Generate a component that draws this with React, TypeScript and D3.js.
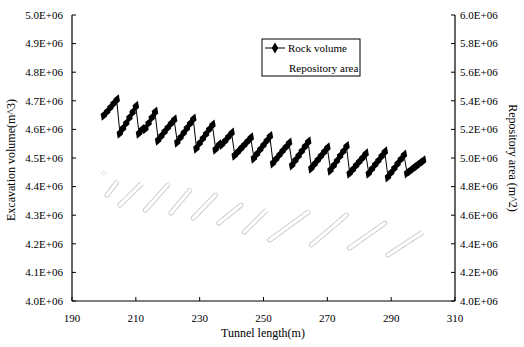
import React from 'react';
import * as d3 from 'd3';

// tunnel length (m), one point per metre
const tunnelLength: number[] = d3.range(200, 301);

// excavation volume, in 10^6 m^3
const rockVolume: number[] = [
  4.650, 4.662, 4.676, 4.690, 4.703,
  4.587, 4.604, 4.622, 4.641, 4.660, 4.680,
  4.587, 4.600, 4.603, 4.622, 4.641, 4.660,
  4.563, 4.577, 4.592, 4.606, 4.620, 4.633,
  4.556, 4.572, 4.588, 4.604, 4.620, 4.636,
  4.535, 4.552, 4.568, 4.584, 4.600, 4.615,
  4.531, 4.546, 4.548, 4.560, 4.574, 4.587,
  4.510, 4.522, 4.534, 4.546, 4.558, 4.570,
  4.500, 4.515, 4.530, 4.545, 4.560, 4.575,
  4.483, 4.497, 4.511, 4.525, 4.538, 4.552,
  4.476, 4.492, 4.508, 4.524, 4.540, 4.556,
  4.465, 4.479, 4.493, 4.507, 4.521, 4.535,
  4.458, 4.474, 4.490, 4.507, 4.523, 4.540,
  4.447, 4.460, 4.474, 4.487, 4.500, 4.514,
  4.447, 4.462, 4.477, 4.491, 4.506, 4.521,
  4.434, 4.449, 4.464, 4.480, 4.495, 4.510,
  4.448, 4.456, 4.465, 4.473, 4.482, 4.490,
];

// repository area, in 10^6 m^2
const repositoryArea: number[] = [
  4.895,
  4.740, 4.770, 4.800, 4.830,
  4.671, 4.693, 4.715, 4.737, 4.759, 4.781, 4.803, 4.825,
  4.636, 4.661, 4.686, 4.711, 4.736, 4.761, 4.786, 4.811,
  4.615, 4.642, 4.669, 4.696, 4.722, 4.749, 4.776,
  4.580, 4.603, 4.626, 4.649, 4.672, 4.695, 4.718, 4.741,
  4.545, 4.563, 4.581, 4.599, 4.617, 4.635, 4.653, 4.671,
  4.483, 4.505, 4.527, 4.549, 4.571, 4.593, 4.615, 4.636,
  4.427, 4.443, 4.459, 4.476, 4.492, 4.508, 4.524, 4.541, 4.557, 4.573, 4.589, 4.606, 4.622,
  4.392, 4.411, 4.430, 4.449, 4.468, 4.487, 4.506, 4.525, 4.544, 4.563, 4.582, 4.601,
  4.371, 4.387, 4.403, 4.418, 4.434, 4.450, 4.466, 4.482, 4.497, 4.513, 4.529, 4.545,
  4.322, 4.337, 4.351, 4.366, 4.381, 4.395, 4.410, 4.425, 4.439, 4.454, 4.468, 4.483,
];

const xTicks = [190, 210, 230, 250, 270, 290, 310];
const leftTicks = [4.0, 4.1, 4.2, 4.3, 4.4, 4.5, 4.6, 4.7, 4.8, 4.9, 5.0];
const rightTicks = [4.0, 4.2, 4.4, 4.6, 4.8, 5.0, 5.2, 5.4, 5.6, 5.8, 6.0];

const W = 524, H = 347;
const font = '"Liberation Serif", "Times New Roman", serif';

const fmt = (v: number) => `${v.toFixed(1)}E+06`;

export default function App() {
  const x = d3.scaleLinear().domain([190, 310]).range([72, 455]);
  const yL = d3.scaleLinear().domain([4.0, 5.0]).range([301, 15]);
  const yR = d3.scaleLinear().domain([4.0, 6.0]).range([301, 15]);

  const rockPts = tunnelLength.map((t, i) => [t, rockVolume[i]] as [number, number]);
  const rockLine = d3.line<[number, number]>()
    .x(d => x(d[0]))
    .y(d => yL(d[1]));

  // split area series into rising runs (each drop starts a new run)
  const runs: [number, number][][] = [];
  let cur: [number, number][] = [];
  tunnelLength.forEach((t, i) => {
    if (i > 0 && repositoryArea[i] < repositoryArea[i - 1]) {
      runs.push(cur);
      cur = [];
    }
    cur.push([t, repositoryArea[i]]);
  });
  runs.push(cur);
  const areaLine = d3.line<[number, number]>()
    .x(d => x(d[0]))
    .y(d => yR(d[1]));

  const diamond = d3.symbol().type(d3.symbolDiamond).size(42)();
  const legendDiamond = d3.symbol().type(d3.symbolDiamond).size(36)();

  return (
    <svg width={W} height={H} style={{ position: 'absolute', left: 0, top: 0, background: '#fff' }}
      fontFamily={font}>
      {/* repository area: faint outlined bands */}
      <g>
        {runs.map((r, i) => r.length > 1 ? (
          <g key={i}>
            <path d={areaLine(r) || ''} fill="none" stroke="#c6c6c6" strokeWidth={5}
              strokeDasharray="1.5 2" strokeLinecap="round" />
            <path d={areaLine(r) || ''} fill="none" stroke="#fff" strokeWidth={3.2}
              strokeLinecap="round" />
          </g>
        ) : (
          <circle key={i} cx={x(r[0][0])} cy={yR(r[0][1])} r={2} fill="none"
            stroke="#cccccc" strokeWidth={0.8} strokeDasharray="1.5 1" />
        ))}
      </g>

      {/* rock volume */}
      <path d={rockLine(rockPts) || ''} fill="none" stroke="#000" strokeWidth={1} />
      {rockPts.map((d, i) => (
        <path key={i} d={diamond || ''} transform={`translate(${x(d[0])},${yL(d[1])}) rotate(20)`}
          fill="#000" />
      ))}

      {/* left axis */}
      <line x1={72} x2={72} y1={yL(5.0)} y2={yL(4.0)} stroke="#000" strokeWidth={1.2} />
      {leftTicks.map(t => (
        <g key={t}>
          <line x1={72} x2={76} y1={yL(t)} y2={yL(t)} stroke="#000" />
          <text x={63} y={yL(t)} dy="0.35em" textAnchor="end" fontSize={11}>{fmt(t)}</text>
        </g>
      ))}

      {/* right axis */}
      <line x1={455} x2={455} y1={yR(6.0)} y2={yR(4.0)} stroke="#000" strokeWidth={1.2} />
      {rightTicks.map(t => (
        <g key={t}>
          <line x1={451} x2={455} y1={yR(t)} y2={yR(t)} stroke="#000" />
          <text x={460} y={yR(t)} dy="0.35em" textAnchor="start" fontSize={11}>{fmt(t)}</text>
        </g>
      ))}

      {/* bottom axis */}
      <line x1={72} x2={455} y1={301} y2={301} stroke="#000" strokeWidth={1.2} />
      {xTicks.map(t => (
        <g key={t}>
          <line x1={x(t)} x2={x(t)} y1={301} y2={297} stroke="#000" />
          <text x={x(t)} y={322} textAnchor="middle" fontSize={11}>{t}</text>
        </g>
      ))}

      {/* axis titles */}
      <text x={263} y={337} textAnchor="middle" fontSize={12}>Tunnel length(m)</text>
      <text transform="translate(15,160) rotate(-90)" textAnchor="middle" fontSize={12}>
        Excavation volume(m^3)
      </text>
      <text transform="translate(509,158) rotate(90)" textAnchor="middle" fontSize={12}>
        Repository area (m^2)
      </text>

      {/* legend */}
      <rect x={262} y={39} width={98} height={37} fill="#fff" stroke="#000" strokeWidth={1} />
      <line x1={265} x2={285} y1={48} y2={48} stroke="#000" strokeWidth={1} />
      <path d={legendDiamond || ''} transform="translate(275,48)" fill="#000" />
      <text x={288} y={48} dy="0.35em" fontSize={11}>Rock volume</text>
      <text x={289} y={68} dy="0.35em" fontSize={11}>Repository area</text>
    </svg>
  );
}
